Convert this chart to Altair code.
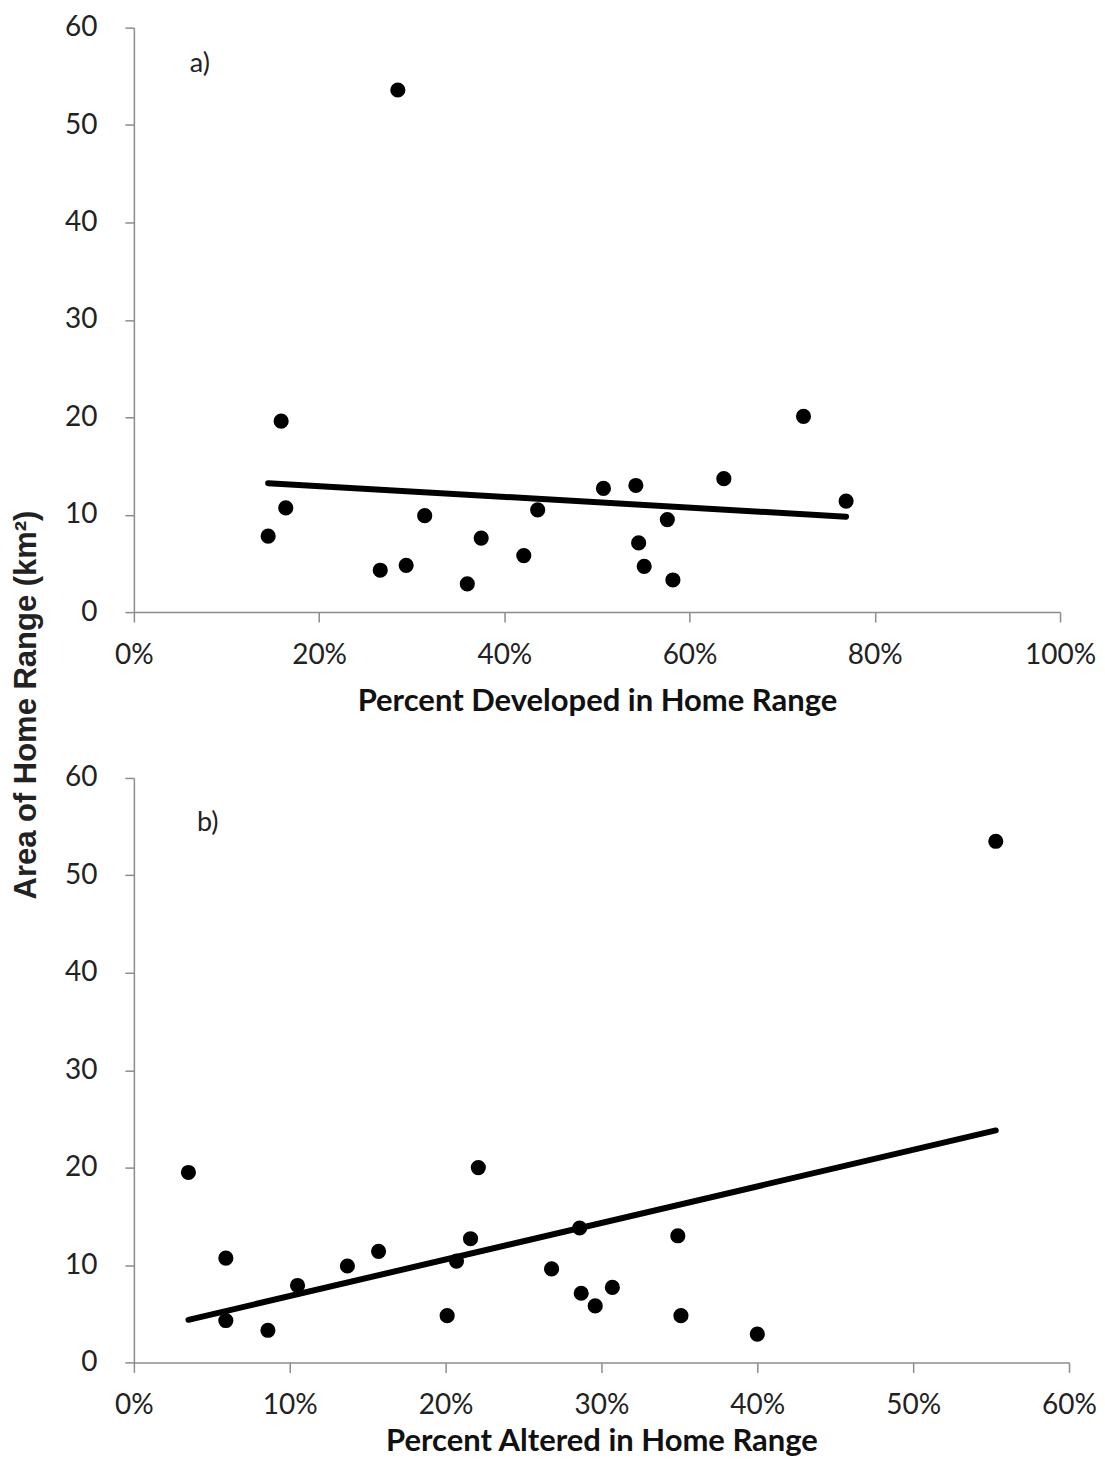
import altair as alt
import pandas as pd

# Panel a: percent developed vs. home-range area
dev_pct = [0.145, 0.159, 0.164, 0.266, 0.285, 0.294, 0.314, 0.360, 0.375, 0.421,
           0.436, 0.507, 0.542, 0.545, 0.551, 0.576, 0.582, 0.637, 0.723, 0.769]
dev_area = [7.8, 19.6, 10.7, 4.3, 53.6, 4.8, 9.9, 2.9, 7.6, 5.8,
            10.5, 12.7, 13.0, 7.1, 4.7, 9.5, 3.3, 13.7, 20.1, 11.4]

# Panel b: percent altered vs. home-range area
alt_pct = [0.035, 0.059, 0.059, 0.086, 0.105, 0.137, 0.157, 0.201, 0.207, 0.216,
           0.221, 0.286, 0.268, 0.287, 0.296, 0.307, 0.349, 0.351, 0.400, 0.553]
alt_area = [19.5, 10.7, 4.3, 3.3, 7.9, 9.9, 11.4, 4.8, 10.4, 12.7,
            20.0, 13.8, 9.6, 7.1, 5.8, 7.7, 13.0, 4.8, 2.9, 53.5]

y_ticks = [0, 10, 20, 30, 40, 50, 60]
dev_ticks = [0, 0.2, 0.4, 0.6, 0.8, 1.0]
alt_ticks = [0, 0.1, 0.2, 0.3, 0.4, 0.5, 0.6]

FONT = "Lato"
AX = "#8c8c8c"


def panel(pct, area, xtitle, xmax, xticks, label, w, h, lx, ly, tpad):
    df = pd.DataFrame({"pct": pct, "area": area})
    x = alt.X("pct:Q", scale=alt.Scale(domain=[0, xmax], nice=False),
              axis=alt.Axis(values=xticks, format=".0%", title=xtitle,
                            labelFlush=False, labelOverlap=False,
                            labelPadding=19, titlePadding=tpad, tickSize=10))
    y = alt.Y("area:Q", scale=alt.Scale(domain=[0, 60], nice=False),
              axis=alt.Axis(values=y_ticks, title=None, labelPadding=28, tickSize=9))
    pts = alt.Chart(df).mark_circle(size=230, color="black", opacity=1).encode(x=x, y=y)
    line = alt.Chart(df).transform_regression("pct", "area").mark_line(
        color="black", strokeWidth=6, strokeCap="round").encode(x=x, y=y)
    lab = alt.Chart(pd.DataFrame({"t": [label]})).mark_text(
        font=FONT, fontSize=27, color="#222", align="center", baseline="middle"
    ).encode(x=alt.value(lx), y=alt.value(ly), text="t:N")
    return alt.layer(pts, line, lab).properties(width=w, height=h)


pa = panel(dev_pct, dev_area, "Percent Developed in Home Range", 1.0, dev_ticks,
           "a)", 927, 585, 66, 36, 17)
pb = panel(alt_pct, alt_area, "Percent Altered in Home Range", 0.6, alt_ticks,
           "b)", 936, 585, 74, 45, 7)

ytitle = alt.Chart(pd.DataFrame({"t": ["Area of Home Range (km²)"]})).mark_text(
    angle=270, font="Liberation Sans", fontSize=31, fontWeight="bold", color="#222",
    align="center", baseline="middle"
).encode(x=alt.value(19), y=alt.value(678), text="t:N").properties(width=40, height=1300)

chart = alt.hconcat(
    ytitle,
    alt.vconcat(pa, pb, spacing=48),
    spacing=16,
).properties(
    padding={"left": 0, "top": 5, "right": 0, "bottom": 0}
).configure_view(stroke=None).configure_axis(
    grid=False, domainColor=AX, tickColor=AX, domainWidth=1.5, tickWidth=1.5,
    labelFont=FONT, labelFontSize=28, labelColor="#222",
    titleFont=FONT, titleFontSize=31, titleFontWeight="bold", titleColor="#111",
)

chart.save("out.html", embed_options={"renderer": "svg", "actions": False})
